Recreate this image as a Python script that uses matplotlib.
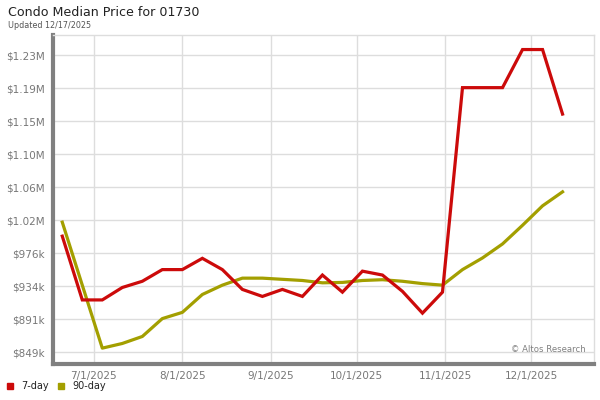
import matplotlib
matplotlib.use("Agg")
import matplotlib.pyplot as plt
import matplotlib.dates as mdates
import pandas as pd

dates = ["2025-06-20", "2025-06-27", "2025-07-04", "2025-07-11", "2025-07-18", "2025-07-25",
         "2025-08-01", "2025-08-08", "2025-08-15", "2025-08-22", "2025-08-29", "2025-09-05",
         "2025-09-12", "2025-09-19", "2025-09-26", "2025-10-03", "2025-10-10", "2025-10-17",
         "2025-10-24", "2025-10-31", "2025-11-07", "2025-11-14", "2025-11-21", "2025-11-28",
         "2025-12-05", "2025-12-12"]
seven_day = [998, 916, 916, 932, 940, 955, 955, 969.5, 955, 929.5, 920.5, 929.5, 920.5,
             948, 926, 953, 948, 927, 899, 926, 1189, 1189, 1189, 1238, 1238, 1155]
ninety_day = [1016, 935, 854, 860, 869, 892, 900, 923, 935, 944, 944, 942.5, 941,
              938, 938.5, 941, 942, 940, 937, 935, 955, 970, 988, 1012, 1037, 1055]
ytick_vals = [849, 891.4, 933.9, 976.3, 1018.7, 1061.1, 1103.6, 1146, 1188.4, 1230.9]
ytick_labels = ["$849k", "$891k", "$934k", "$976k", "$1.02M", "$1.06M", "$1.10M",
                "$1.15M", "$1.19M", "$1.23M"]
xtick_dates = ["2025-07-01", "2025-08-01", "2025-09-01", "2025-10-01", "2025-11-01", "2025-12-01"]
xtick_labels = ["7/1/2025", "8/1/2025", "9/1/2025", "10/1/2025", "11/1/2025", "12/1/2025"]

x = pd.to_datetime(dates)
red = "#cc0a0a"
olive = "#a39f00"

fig = plt.figure(figsize=(6, 4), dpi=100)
ax = fig.add_axes([0.0883, 0.09, 0.9017, 0.8225])

ax.plot(x, [v * 1000 for v in seven_day], color=red, lw=2.3, solid_joinstyle="miter", zorder=3)
ax.plot(x, [v * 1000 for v in ninety_day], color=olive, lw=2.3, zorder=2)

ax.set_xlim(pd.Timestamp("2025-06-16 18:00"), pd.Timestamp("2025-12-23"))
ax.set_ylim(833600, 1256700)
ax.set_yticks([v * 1000 for v in ytick_vals])
ax.set_yticklabels(ytick_labels)
ax.set_xticks(pd.to_datetime(xtick_dates))
ax.set_xticklabels(xtick_labels)
ax.tick_params(axis="both", length=0, labelsize=7.5, labelcolor="#777777", pad=6)
ax.tick_params(axis="x", pad=5)

ax.grid(True, color="#dddddd", lw=1)
ax.set_axisbelow(True)
for s in ["top", "right"]:
    ax.spines[s].set_color("#dddddd")
    ax.spines[s].set_linewidth(1)
for s in ["left", "bottom"]:
    ax.spines[s].set_color("#808080")
    ax.spines[s].set_linewidth(3)

ax.text(0.985, 0.03, "© Altos Research", transform=ax.transAxes, ha="right", va="bottom",
        fontsize=6.1, color="#808080")

fig.text(8 / 600, 1 - 12 / 400, "Condo Median Price for 01730", fontsize=9.1, color="#222222",
         ha="left", va="center")
fig.text(8 / 600, 1 - 25 / 400, "Updated 12/17/2025", fontsize=5.8, color="#555555",
         ha="left", va="center")

# legend
fig.patches.append(plt.Rectangle((7 / 600, 1 - 389 / 400), 6 / 600, 6 / 400, color=red,
                                 transform=fig.transFigure, figure=fig))
fig.text(21 / 600, 1 - 386 / 400, "7-day", fontsize=7, color="#222222", ha="left", va="center")
fig.patches.append(plt.Rectangle((58 / 600, 1 - 389 / 400), 6 / 600, 6 / 400, color=olive,
                                 transform=fig.transFigure, figure=fig))
fig.text(72 / 600, 1 - 386 / 400, "90-day", fontsize=7, color="#222222", ha="left", va="center")

fig.savefig("out.png", dpi=100)
